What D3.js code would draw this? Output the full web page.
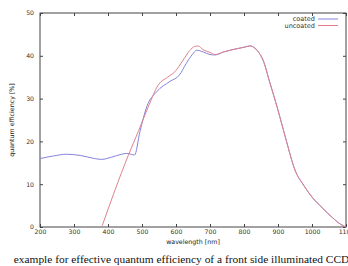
<!DOCTYPE html>
<html>
<head>
<meta charset="utf-8">
<script src="https://cdn.jsdelivr.net/npm/d3@7"></script>
<style>
  body { margin: 0; background: #fff; }
  .tick text { font-family: "DejaVu Sans", sans-serif; font-size: 6.2px; fill: #333; }
  .axis-title { font-family: "DejaVu Sans", sans-serif; font-size: 6.3px; fill: #222; }
  .legend text { font-family: "DejaVu Sans", sans-serif; font-size: 6.5px; fill: #333; }
  .caption { font-family: "Liberation Serif", "Times New Roman", serif; font-size: 11.4px; fill: #111; }
</style>
</head>
<body>
<div id="chart"></div>
<script>
// wavelength [nm] and quantum efficiency [%]
const coatedWl = [200, 240, 278, 320, 360, 381, 410, 440, 455, 468, 478, 494, 514, 543, 582, 610, 630, 648, 661, 680, 700, 715, 740, 770, 800, 818, 832, 845, 856, 875, 900, 925, 950, 975, 1000, 1030, 1060, 1085, 1100];
const coatedQe = [16.0, 16.6, 17.0, 16.7, 16.0, 15.8, 16.3, 17.0, 17.2, 17.0, 16.8, 22.3, 28.1, 31.6, 34.0, 35.5, 38.2, 40.3, 41.3, 40.9, 40.3, 40.2, 40.9, 41.5, 42.0, 42.3, 41.8, 40.6, 39.0, 34.0, 27.3, 20.0, 13.3, 9.8, 7.0, 4.5, 2.2, 0.6, 0.0];

const uncoatedWl = [383, 420, 460, 490, 518, 548, 575, 597, 621, 640, 655, 665, 680, 700, 715, 740, 770, 800, 818, 832, 845, 856, 875, 900, 925, 950, 975, 1000, 1030, 1060, 1085, 1100];
const uncoatedQe = [0.3, 8.5, 16.8, 22.5, 28.0, 33.2, 35.0, 36.3, 39.0, 41.2, 42.2, 42.3, 41.4, 40.8, 40.3, 40.9, 41.5, 42.0, 42.3, 41.8, 40.6, 39.0, 34.0, 27.3, 20.0, 13.3, 9.8, 7.0, 4.5, 2.2, 0.6, 0.0];

const xTicks = [200, 300, 400, 500, 600, 700, 800, 900, 1000, 1100];
const yTicks = [0, 10, 20, 30, 40, 50];

const seriesNames = ['coated', 'uncoated'];
const seriesColors = ['#8383dc', '#e0828e'];

const width = 348, height = 266;
const margin = {top: 13, right: 2, bottom: 39, left: 40};
const innerW = width - margin.left - margin.right;
const innerH = height - margin.top - margin.bottom;

const svg = d3.select('#chart').append('svg')
    .attr('width', width)
    .attr('height', height);

const chart = svg.append('g')
    .attr('transform', `translate(${margin.left},${margin.top})`);

const xScale = d3.scaleLinear().domain([200, 1100]).range([0, innerW]);
const yScale = d3.scaleLinear().domain([0, 50]).range([innerH, 0]);

// gnuplot style: inward ticks mirrored on all four sides
chart.append('g')
    .attr('class', 'axis')
    .attr('transform', `translate(0,${innerH})`)
    .call(d3.axisBottom(xScale).tickValues(xTicks).tickSize(-3).tickSizeOuter(0).tickPadding(3).tickFormat(d3.format('d')));
chart.append('g')
    .attr('class', 'axis')
    .call(d3.axisTop(xScale).tickValues(xTicks).tickSize(-3).tickSizeOuter(0).tickFormat(''));
chart.append('g')
    .attr('class', 'axis')
    .call(d3.axisLeft(yScale).tickValues(yTicks).tickSize(-3).tickSizeOuter(0).tickPadding(6));
chart.append('g')
    .attr('class', 'axis')
    .attr('transform', `translate(${innerW},0)`)
    .call(d3.axisRight(yScale).tickValues(yTicks).tickSize(-3).tickSizeOuter(0).tickFormat(''));

chart.selectAll('.axis line').attr('stroke', '#444');
chart.selectAll('.axis .domain').remove();

chart.append('rect')
    .attr('width', innerW)
    .attr('height', innerH)
    .attr('fill', 'none')
    .attr('stroke', '#444')
    .attr('stroke-width', 1);

const line = d3.line()
    .x(d => xScale(d[0]))
    .y(d => yScale(d[1]))
    .curve(d3.curveMonotoneX);

const series = [
    d3.zip(coatedWl, coatedQe),
    d3.zip(uncoatedWl, uncoatedQe)
];

chart.selectAll('.series')
    .data(series)
    .join('path')
    .attr('class', 'series')
    .attr('fill', 'none')
    .attr('stroke', (d, i) => seriesColors[i])
    .attr('stroke-width', 1)
    .attr('d', line);

// legend, top right inside the frame
const legend = svg.append('g').attr('class', 'legend');
seriesNames.forEach((name, i) => {
    const y = 19 + i * 6.5;
    legend.append('text')
        .attr('x', 315)
        .attr('y', y)
        .attr('dy', '0.35em')
        .attr('text-anchor', 'end')
        .text(name);
    legend.append('line')
        .attr('x1', 318).attr('x2', 338)
        .attr('y1', y).attr('y2', y)
        .attr('stroke', seriesColors[i]);
});

svg.append('text')
    .attr('class', 'axis-title')
    .attr('x', margin.left + innerW / 2)
    .attr('y', 243.5)
    .attr('text-anchor', 'middle')
    .text('wavelength [nm]');

svg.append('text')
    .attr('class', 'axis-title')
    .attr('transform', 'rotate(-90)')
    .attr('x', -(margin.top + innerH / 2))
    .attr('y', 14)
    .attr('text-anchor', 'middle')
    .text('quantum efficiency [%]');

svg.append('text')
    .attr('class', 'caption')
    .attr('x', 181.5)
    .attr('y', 263)
    .attr('text-anchor', 'middle')
    .text('example for effective quantum efficiency of a front side illuminated CCD');
</script>
</body>
</html>
